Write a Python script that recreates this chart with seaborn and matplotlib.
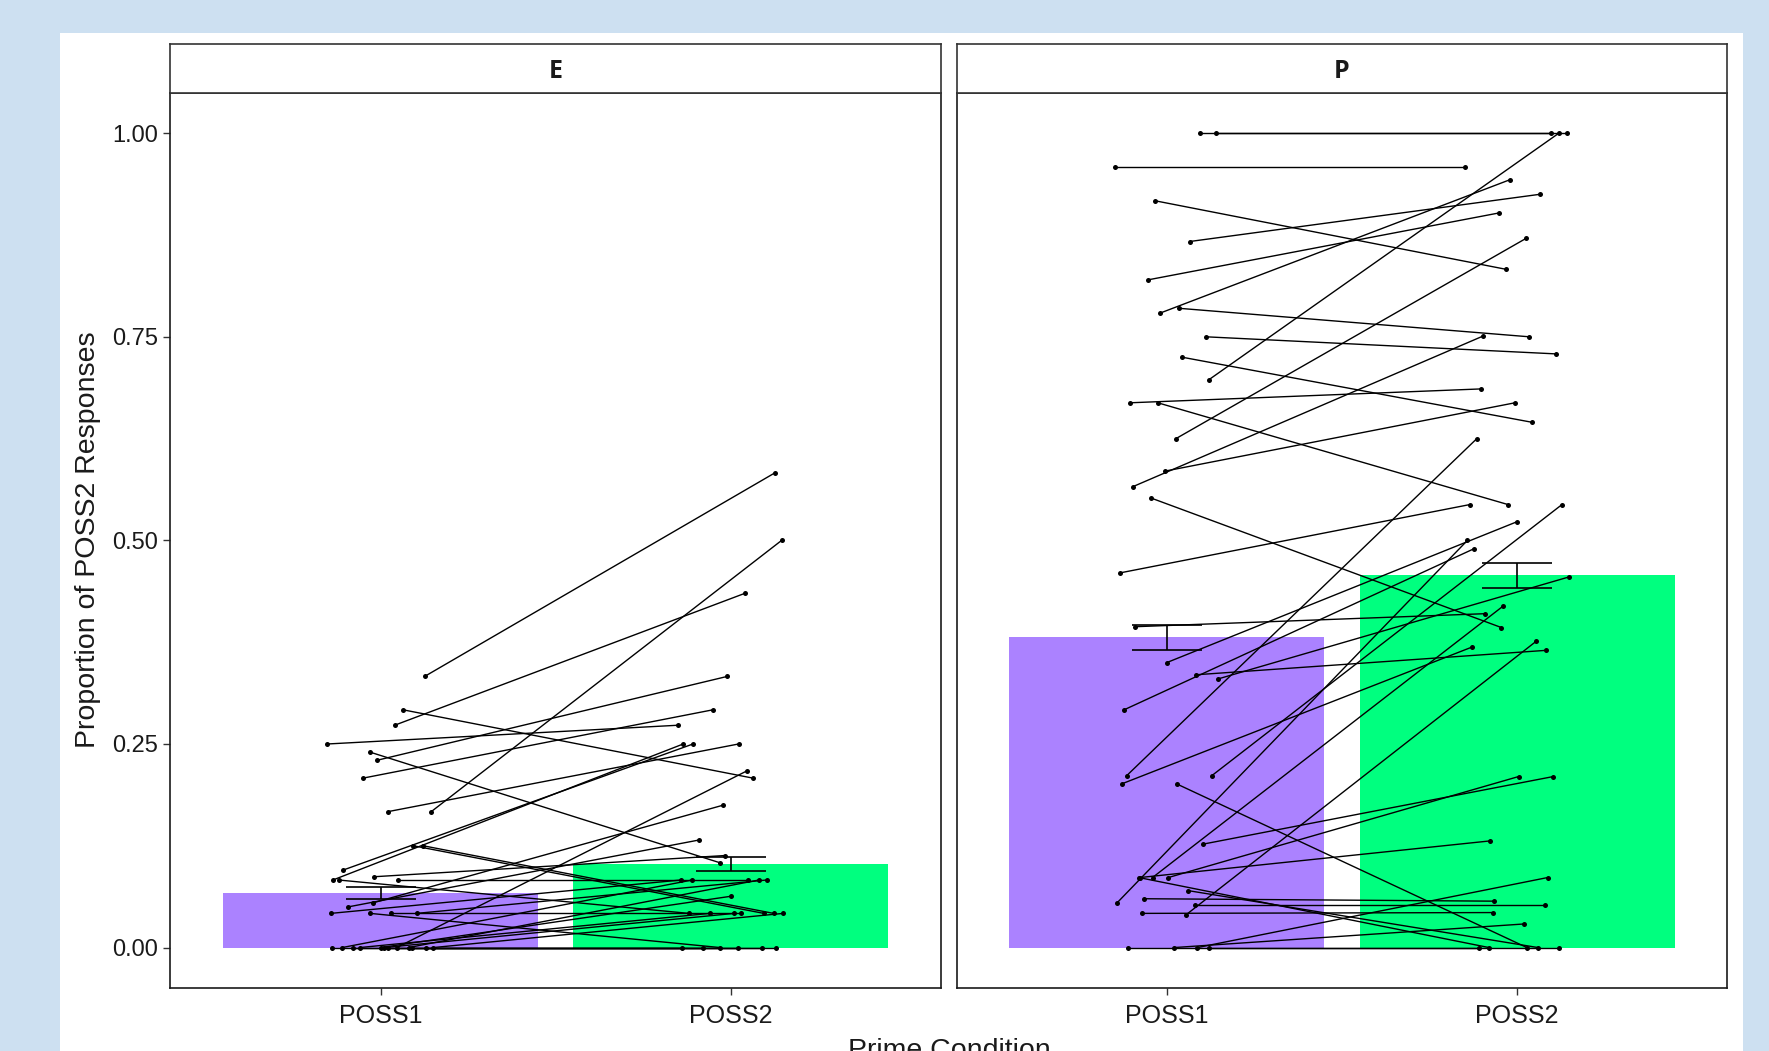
import matplotlib
matplotlib.use("Agg")
import matplotlib.pyplot as plt
from matplotlib.patches import Rectangle
import pandas as pd
import seaborn as sns

conditions = ["POSS1", "POSS2"]
facets = ["E", "P"]

# bar heights (mean proportion) and standard errors
e_means = [0.067, 0.103]
e_se = [0.007, 0.0085]
p_means = [0.381, 0.457]
p_se = [0.0155, 0.0155]

# per-subject proportions and the horizontal jitter used for each subject
e_poss1 = [0.333, 0.167, 0.273, 0.250, 0.292, 0.208, 0.240, 0.230, 0.167, 0.083,
           0.095, 0.125, 0.125, 0.000, 0.055, 0.050, 0.087, 0.042, 0.083, 0.042,
           0.000, 0.000, 0.000, 0.000, 0.000, 0.000, 0.000, 0.000, 0.042, 0.000,
           0.083, 0.042, 0.000, 0.000]
e_poss2 = [0.583, 0.500, 0.435, 0.273, 0.208, 0.292, 0.104, 0.333, 0.250, 0.250,
           0.250, 0.042, 0.042, 0.217, 0.175, 0.132, 0.113, 0.083, 0.083, 0.083,
           0.000, 0.000, 0.000, 0.000, 0.042, 0.042, 0.083, 0.042, 0.000, 0.083,
           0.042, 0.042, 0.063, 0.000]
e_jitter = [0.126, 0.145, 0.040, -0.152, 0.064, -0.051, -0.030, -0.010, 0.022, -0.136,
            -0.108, 0.094, 0.122, 0.046, -0.021, -0.092, -0.018, -0.142, 0.050, 0.103,
            -0.140, -0.080, 0.020, 0.130, -0.060, 0.010, -0.110, 0.150, -0.030, 0.080,
            -0.120, 0.030, 0.000, 0.090]

p_poss1 = [1.000, 1.000, 0.958, 0.917, 0.867, 0.820, 0.779, 0.785, 0.750, 0.725,
           0.697, 0.669, 0.669, 0.625, 0.585, 0.566, 0.552, 0.460, 0.350, 0.335,
           0.292, 0.211, 0.201, 0.211, 0.201, 0.127, 0.086, 0.086, 0.086, 0.055,
           0.060, 0.042, 0.394, 0.330, 0.040, 0.000, 0.052, 0.086, 0.000, 0.000,
           0.000, 0.070]
p_poss2 = [1.000, 1.000, 0.958, 0.833, 0.925, 0.902, 0.943, 0.750, 0.729, 0.645,
           1.000, 0.686, 0.544, 0.871, 0.669, 0.751, 0.393, 0.544, 0.523, 0.365,
           0.490, 0.625, 0.369, 0.544, 0.000, 0.210, 0.131, 0.419, 0.210, 0.500,
           0.057, 0.043, 0.410, 0.455, 0.376, 0.086, 0.052, 0.000, 0.000, 0.000,
           0.029, 0.000]
p_jitter = [0.096, 0.141, -0.148, -0.033, 0.065, -0.053, -0.020, 0.035, 0.112, 0.043,
            0.119, -0.104, -0.026, 0.026, -0.006, -0.097, -0.045, -0.135, 0.000, 0.083,
            -0.122, -0.115, -0.129, 0.128, 0.028, 0.103, -0.077, -0.041, 0.004, -0.142,
            -0.066, -0.070, -0.092, 0.147, 0.054, 0.087, 0.080, -0.080, -0.110, 0.120,
            0.020, 0.060]

bar_colors = {"POSS1": "#AB82FF", "POSS2": "#00FF7F"}
W, H = 1769, 1051


def subject_frame(poss1, poss2, jitter):
    rows = []
    for i, (a, b, j) in enumerate(zip(poss1, poss2, jitter)):
        rows.append({"subject": i, "xpos": 0 + j, "prop": a})
        rows.append({"subject": i, "xpos": 1 + j, "prop": b})
    return pd.DataFrame(rows)


def draw_panel(ax, means, se, subj, show_y):
    bars = pd.DataFrame({"pos": [0, 1], "prop": means, "cond": conditions})
    sns.barplot(data=bars, x="pos", y="prop", hue="cond", palette=bar_colors,
                native_scale=True, width=0.9, saturation=1, dodge=False,
                legend=False, errorbar=None, linewidth=0, edgecolor="none", ax=ax)
    sns.lineplot(data=subj, x="xpos", y="prop", units="subject", estimator=None,
                 color="black", linewidth=1.0, marker="o", markersize=3.6,
                 markeredgewidth=0, legend=False, ax=ax, zorder=3)
    ax.errorbar([0, 1], means, yerr=se, fmt="none", ecolor="black",
                elinewidth=1.2, capsize=25, capthick=1.2, zorder=4)

    ax.set_xlim(-0.6, 1.6)
    ax.set_ylim(-0.05, 1.05)
    ax.set_xticks([0, 1], conditions)
    ax.set_yticks([0, 0.25, 0.5, 0.75, 1.0], ["0.00", "0.25", "0.50", "0.75", "1.00"])
    ax.set_xlabel("")
    ax.set_ylabel("")
    ax.set_facecolor("white")
    for s in ax.spines.values():
        s.set_visible(True)
        s.set_color("#1a1a1a")
        s.set_linewidth(1.2)
    ax.tick_params(axis="both", direction="out", length=5, width=1, color="#333333",
                   labelcolor="#1a1a1a")
    ax.tick_params(axis="x", bottom=True, labelsize=18, pad=6)
    if show_y:
        ax.tick_params(axis="y", left=True, labelsize=17, pad=4)
    else:
        ax.tick_params(axis="y", left=False, labelleft=False)


sns.set_style("white")
plt.rcParams["font.family"] = ["Liberation Sans", "DejaVu Sans"]

fig = plt.figure(figsize=(W / 100, H / 100), dpi=100, facecolor="#cde0f1")
fig.patches.append(Rectangle((60 / W, 0), (1743 - 60) / W, (H - 33) / H,
                             transform=fig.transFigure, facecolor="white",
                             edgecolor="none", zorder=-10))

panels = [
    (170.4, e_means, e_se, subject_frame(e_poss1, e_poss2, e_jitter), True),
    (956.7, p_means, p_se, subject_frame(p_poss1, p_poss2, p_jitter), False),
]
ax_top, ax_bottom, ax_w = 92.5, 988.3, 770.6
strip_top = 44.0

for name, (x0, means, se, subj, show_y) in zip(facets, panels):
    ax = fig.add_axes([x0 / W, 1 - ax_bottom / H, ax_w / W, (ax_bottom - ax_top) / H])
    draw_panel(ax, means, se, subj, show_y)

    strip = fig.add_axes([x0 / W, 1 - ax_top / H, ax_w / W, (ax_top - strip_top) / H])
    strip.set_facecolor("white")
    strip.set_xticks([])
    strip.set_yticks([])
    for s in strip.spines.values():
        s.set_color("#333333")
        s.set_linewidth(1.2)
    strip.text(0.5, 0.44, name, ha="center", va="center", fontsize=18,
               family=["Open Sans", "DejaVu Sans"], weight="bold", color="#1a1a1a")

fig.text(88 / W, 1 - 540 / H, "Proportion of POSS2 Responses", rotation=90,
         ha="center", va="center", fontsize=20.5, color="#1a1a1a")
fig.text(948.9 / W, 1 - 1038 / H, "Prime Condition", ha="center", va="top",
         fontsize=20.5, color="#1a1a1a")

fig.savefig("out.png", dpi=100, facecolor=fig.get_facecolor())
